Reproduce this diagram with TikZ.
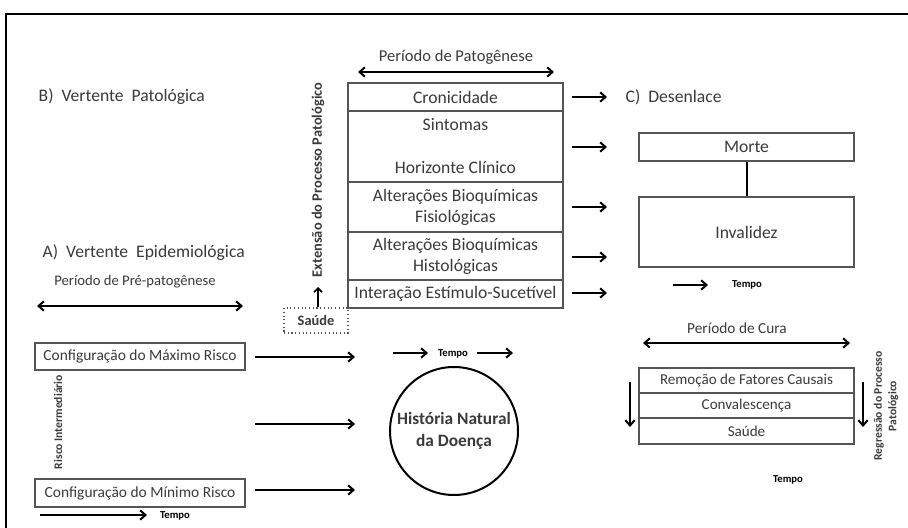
\documentclass[tikz,border=0pt]{standalone}
\usepackage{fontspec}
\setmainfont{Carlito}
\usetikzlibrary{arrows.meta}
\definecolor{txt}{HTML}{3A3A3A}
\definecolor{edge}{HTML}{555555}
\begin{document}
\begin{tikzpicture}[x=0.75pt,y=-0.75pt,
  every node/.style={text=txt,font=\fontsize{13.2}{15.75}\selectfont},
  bx/.style={draw=edge,line width=1pt,inner sep=0pt,minimum width=161.25pt,align=center},
  cure/.style={bx,font=\fontsize{11.3}{13}\selectfont},
  cfg/.style={draw=edge,line width=0.8pt,inner sep=0pt,minimum width=157.5pt,font=\fontsize{11.6}{13}\selectfont},
  arr/.style={draw=black,line width=1.5pt,-{Straight Barb[length=4pt,width=7pt]}},
  darr/.style={draw=black,line width=1.5pt,{Straight Barb[length=4pt,width=7pt]}-{Straight Barb[length=4pt,width=7pt]}},
  tempo/.style={font=\bfseries\fontsize{8}{9}\selectfont,text=black},
  vlab/.style={font=\bfseries\fontsize{8.7}{11}\selectfont,text=txt,rotate=90,align=center}]
\useasboundingbox (0,0) rectangle (908,528);
% frame
\draw[line width=1.5pt,black] (908,14) -- (6,14) -- (6,528);

% titles
\node[anchor=west] (tB) at (34,97) {B)\ \ Vertente\ \ Patológica};
\node[anchor=west] (tA) at (38,253) {A)\ \ Vertente\ \ Epidemiológica};
\node[anchor=west] (tC) at (621,97) {C)\ \ Desenlace};

% Patogenese stack
\node[font=\fontsize{12.4}{14}\selectfont] (tpat) at (456,57) {Período de Patogênese};
\coordinate (p1) at (358,72); \coordinate (p2) at (554,72);
\draw[darr] (p1) -- (p2);
\node[bx,minimum height=21pt] (cron) at (455.5,97) {Cronicidade};
\node[bx,minimum height=53.25pt] (sint) at (455.5,146.5) {};
\node (sintA) at (455.5,125) {Sintomas};
\node (sintB) at (455.5,167) {Horizonte Clínico};
\node[bx,minimum height=37.5pt] (fis) at (455.5,207) {Alterações Bioquímicas\\Fisiológicas};
\node[bx,minimum height=36pt] (hist) at (455.5,256) {Alterações Bioquímicas\\Histológicas};
\node[bx,minimum height=21pt] (inter) at (455.5,294) {Interação Estímulo-Sucetível};

% arrows to desenlace
\foreach \n/\y in {1/97,2/147,3/207,4/257,5/293}{
  \coordinate (rs\n) at (572,\y); \coordinate (re\n) at (607,\y);
  \draw[arr] (rs\n) -- (re\n);
}

% desenlace
\node[bx,minimum height=21pt] (morte) at (746.5,147) {Morte};
\node[bx,minimum height=52.5pt] (inv) at (746.5,232) {Invalidez};
\draw[line width=1.5pt,black] (morte) -- (inv);
\coordinate (t1s) at (673,285); \coordinate (t1e) at (708,285);
\draw[arr] (t1s) -- (t1e);
\node[tempo] (t1) at (747,285) {Tempo};

% Saude + extension
\node[draw=edge,dotted,line width=0.8pt,minimum width=48pt,minimum height=18.75pt,inner sep=0pt,font=\bfseries\fontsize{10.8}{12}\selectfont] (saude) at (316,320.5) {Saúde};
\coordinate (ext) at (318,287);
\draw[line width=1.2pt,black,-{Straight Barb[length=3pt,width=6pt]}] (saude.north -| ext) -- (ext);
\node[vlab,font=\bfseries\fontsize{10.8}{12}\selectfont] (extl) at (318,180) {Extensão do Processo Patológico};

% pre-patogenese
\node[font=\fontsize{11}{13}\selectfont] (tpre) at (135,282) {Período de Pré-patogênese};
\coordinate (q1) at (37,306); \coordinate (q2) at (243,306);
\draw[darr] (q1) -- (q2);
\node[cfg,minimum height=20.25pt] (maxr) at (140,356.5) {Configuração do Máximo Risco};
\node[cfg,minimum height=21pt] (minr) at (140,493) {Configuração do Mínimo Risco};
\node[vlab] (ri) at (58,422) {Risco Intermediário};
\foreach \n/\y in {1/357,2/424,3/490}{
  \coordinate (ls\n) at (255,\y); \coordinate (le\n) at (355,\y);
  \draw[arr] (ls\n) -- (le\n);
}
\coordinate (t3s) at (40,515); \coordinate (t3e) at (147,515);
\draw[arr] (t3s) -- (t3e);
\node[tempo] (t3) at (175,516) {Tempo};

% circle
\node[draw=black,line width=1.5pt,circle,minimum size=96pt,inner sep=0pt,align=center,
  font=\bfseries\fontsize{13}{16.5}\selectfont] (hnd) at (454,431) {História Natural\\da Doença};
\coordinate (t2as) at (393,353); \coordinate (t2ae) at (428,353);
\coordinate (t2bs) at (477,353); \coordinate (t2be) at (513,353);
\draw[arr] (t2as) -- (t2ae);
\draw[arr] (t2bs) -- (t2be);
\node[tempo] (t2) at (453,354) {Tempo};

% cura
\node[font=\fontsize{11.5}{13}\selectfont] (tcura) at (737,328) {Período de Cura};
\coordinate (c1) at (643,343); \coordinate (c2) at (850,343);
\draw[darr] (c1) -- (c2);
\node[cure,minimum height=18.75pt] (rem) at (746.5,380.5) {Remoção de Fatores Causais};
\node[cure,minimum height=18.75pt] (conv) at (746.5,405.5) {Convalescença};
\node[cure,minimum height=19.5pt] (sau2) at (746.5,431) {Saúde};
\coordinate (d1s) at (630,382); \coordinate (d1e) at (630,427);
\coordinate (d2s) at (863,382); \coordinate (d2e) at (863,427);
\draw[arr] (d1s) -- (d1e);
\draw[arr] (d2s) -- (d2e);
\node[vlab] (reg) at (886,406) {Regressão do Processo\\Patológico};
\node[tempo] (t4) at (788,480) {Tempo};
\end{tikzpicture}
\end{document}
